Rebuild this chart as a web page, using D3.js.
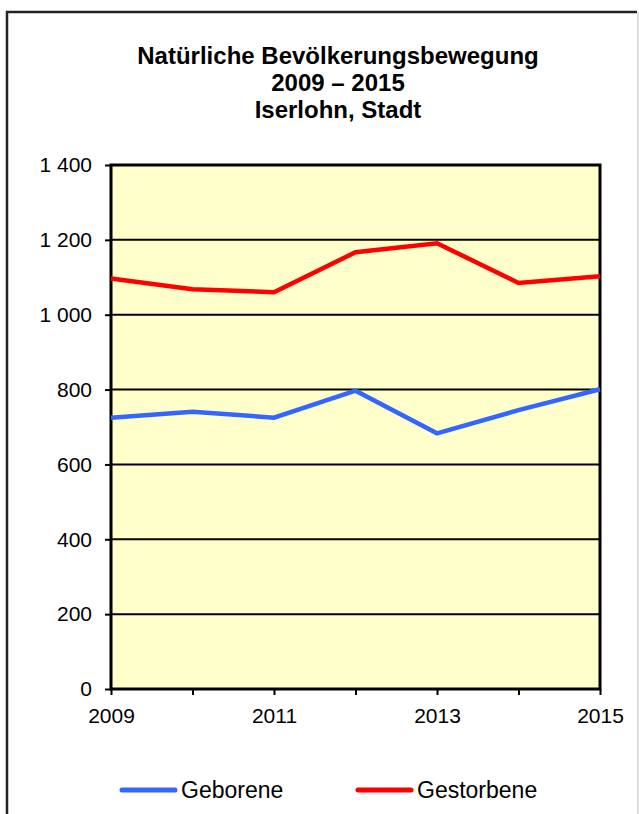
<!DOCTYPE html>
<html lang="de">
<head>
  <meta charset="UTF-8">
  <title>Natürliche Bevölkerungsbewegung</title>
  <style>
    body { margin: 0; background: #fff; }
    svg { display: block; font-family: Arial, 'Liberation Sans', sans-serif; }
  </style>
</head>
<body>
  <svg id="svg" width="639" height="814"></svg>
  <script src="https://d3js.org/d3.v7.min.js"></script>
  <script>
    const years = [2009, 2010, 2011, 2012, 2013, 2014, 2015]
    const geborene = [725, 741, 725, 797, 683, 745, 801]
    const gestorbene = [1097, 1068, 1060, 1167, 1191, 1085, 1103]
    const yTicks = [0, 200, 400, 600, 800, 1000, 1200, 1400]
    const xLabels = [2009, 2011, 2013, 2015]
    const titleLines = ['Natürliche Bevölkerungsbewegung', '2009 – 2015', 'Iserlohn, Stadt']
    const seriesNames = ['Geborene', 'Gestorbene']

    const colors = { Geborene: '#3366ff', Gestorbene: '#ff0000' }
    const series = [
      { name: 'Geborene', values: geborene },
      { name: 'Gestorbene', values: gestorbene }
    ]

    const svg = d3.select('#svg')

    // outer frame
    svg.append('path')
      .attr('d', 'M7,814 V12 H637')
      .attr('fill', 'none')
      .attr('stroke', '#222')
      .attr('stroke-width', 2.5)
    svg.append('line')
      .attr('x1', 638).attr('x2', 638).attr('y1', 12).attr('y2', 814)
      .attr('stroke', '#bbb').attr('stroke-width', 1)

    // title
    svg.append('g')
      .selectAll('text')
      .data(titleLines)
      .join('text')
      .attr('x', 338)
      .attr('y', (d, i) => 64 + i * 27)
      .attr('text-anchor', 'middle')
      .attr('font-weight', 'bold')
      .attr('font-size', 24)
      .text(d => d)

    const x = d3.scaleLinear().domain([2009, 2015]).range([111, 600])
    const y = d3.scaleLinear().domain([0, 1400]).range([689, 165])

    // plot area
    svg.append('rect')
      .attr('x', x(2009)).attr('y', y(1400))
      .attr('width', x(2015) - x(2009)).attr('height', y(0) - y(1400))
      .attr('fill', '#ffffcc')

    // gridlines
    svg.append('g')
      .selectAll('line')
      .data(yTicks.slice(1, -1))
      .join('line')
      .attr('x1', x(2009)).attr('x2', x(2015))
      .attr('y1', d => y(d)).attr('y2', d => y(d))
      .attr('stroke', '#000').attr('stroke-width', 2)

    // y axis
    const yAxis = svg.append('g')
      .attr('transform', `translate(${x(2009)},0)`)
      .call(d3.axisLeft(y).tickValues(yTicks).tickSize(6).tickPadding(13)
        .tickFormat(d => d3.format(',')(d).replace(',', ' ')))
    yAxis.select('.domain').remove()
    yAxis.selectAll('line').attr('stroke', '#000').attr('stroke-width', 2)
    yAxis.selectAll('text').attr('font-size', 21).attr('fill', '#000')
      .attr('font-family', 'Arial, Liberation Sans, sans-serif')

    // x axis
    const xAxis = svg.append('g')
      .attr('transform', `translate(0,${y(0)})`)
      .call(d3.axisBottom(x).tickValues(years).tickSize(6).tickPadding(13)
        .tickFormat(d => xLabels.includes(d) ? d : ''))
    xAxis.select('.domain').remove()
    xAxis.selectAll('line').attr('stroke', '#000').attr('stroke-width', 2)
    xAxis.selectAll('text').attr('font-size', 21).attr('fill', '#000')
      .attr('font-family', 'Arial, Liberation Sans, sans-serif')

    // plot border
    svg.append('rect')
      .attr('x', x(2009)).attr('y', y(1400))
      .attr('width', x(2015) - x(2009)).attr('height', y(0) - y(1400))
      .attr('fill', 'none')
      .attr('stroke', '#000').attr('stroke-width', 3)

    // lines
    const line = d3.line()
      .x((d, i) => x(years[i]))
      .y(d => y(d))

    svg.append('g')
      .selectAll('path')
      .data(series)
      .join('path')
      .attr('d', d => line(d.values))
      .attr('fill', 'none')
      .attr('stroke', d => colors[d.name])
      .attr('stroke-width', 4.5)

    // legend
    const legend = svg.append('g')
      .selectAll('g')
      .data(seriesNames)
      .join('g')
      .attr('transform', (d, i) => `translate(${[122, 358][i]},790)`)

    legend.append('line')
      .attr('x1', 0).attr('x2', 53)
      .attr('stroke', d => colors[d])
      .attr('stroke-width', 5)
      .attr('stroke-linecap', 'round')

    legend.append('text')
      .attr('x', 59).attr('y', 8)
      .attr('font-size', 23)
      .text(d => d)
  </script>
</body>
</html>
